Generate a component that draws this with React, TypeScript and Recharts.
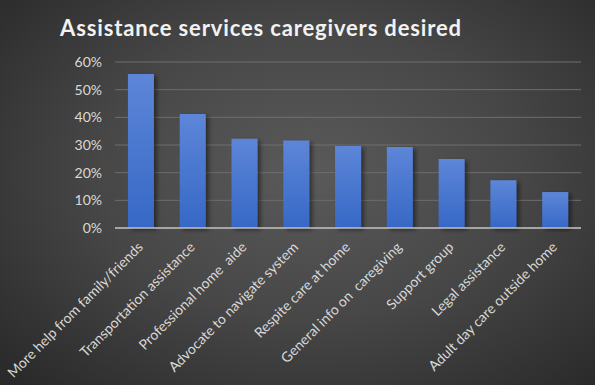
import React from "react";
import { BarChart, Bar, XAxis, YAxis, CartesianGrid } from "recharts";

const categories = [
  "More help from family/friends",
  "Transportation assistance",
  "Professional home  aide",
  "Advocate to navigate system",
  "Respite care at home",
  "General info on  caregiving",
  "Support group",
  "Legal assistance",
  "Adult day care outside home",
];
const values = [0.557, 0.412, 0.323, 0.316, 0.296, 0.293, 0.249, 0.173, 0.13];
const yTicks = [0, 0.1, 0.2, 0.3, 0.4, 0.5, 0.6];

const data = categories.map((c, i) => ({ name: c, value: values[i] }));

const FONT = "Lato, 'Open Sans', sans-serif";

const XTick = (props: any) => {
  const { x, y, payload } = props;
  const ax = x + 3;
  const ay = y + 12;
  return (
    <text
      x={ax}
      y={ay}
      transform={`rotate(-45, ${ax}, ${ay})`}
      textAnchor="end"
      fill="#d9d9d9"
      fontSize={14}
      fontFamily={FONT}
      style={{ whiteSpace: "pre" }}
    >
      {payload.value}
    </text>
  );
};

export default function App() {
  return (
    <div
      style={{
        position: "absolute",
        left: 0,
        top: 0,
        width: 595,
        height: 385,
        background:
          "radial-gradient(ellipse 70% 75% at 52% 45%, #5a5a5a 0%, #474747 50%, #2a2a2a 100%)",
        overflow: "hidden",
      }}
    >
      <div
        style={{
          position: "absolute",
          left: 0,
          width: 522,
          top: 14,
          textAlign: "center",
          color: "#f2f2f2",
          fontFamily: FONT,
          fontWeight: 700,
          fontSize: 22,
          letterSpacing: 0.85,
        }}
      >
        Assistance services caregivers desired
      </div>
      <BarChart
        width={595}
        height={385}
        data={data}
        margin={{ top: 62, right: 14, bottom: 0, left: 0 }}
        barCategoryGap="25%"
      >
        <defs>
          <linearGradient id="barGrad" x1="0" y1="0" x2="0" y2="1">
            <stop offset="0%" stopColor="#5d86d8" />
            <stop offset="100%" stopColor="#3668c6" />
          </linearGradient>
          <filter id="barShadow" x="-20%" y="-10%" width="150%" height="120%">
            <feDropShadow dx="3" dy="2" stdDeviation="2" floodColor="#000" floodOpacity="0.45" />
          </filter>
        </defs>
        <CartesianGrid vertical={false} stroke="#6e6e6e" strokeWidth={1} />
        <XAxis
          dataKey="name"
          interval={0}
          tickLine={false}
          axisLine={{ stroke: "#bfbfbf", strokeWidth: 1.5 }}
          tick={<XTick />}
          height={157}
        />
        <YAxis
          domain={[0, 0.6]}
          ticks={yTicks}
          width={115}
          axisLine={false}
          tickLine={false}
          tickSize={0}
          tickMargin={13}
          tickFormatter={(v: number) => `${Math.round(v * 100)}%`}
          tick={{ fill: "#d9d9d9", fontSize: 14, fontFamily: FONT }}
        />
        <Bar
          dataKey="value"
          fill="url(#barGrad)"
          filter="url(#barShadow)"
          isAnimationActive={false}
        />
      </BarChart>
    </div>
  );
}
